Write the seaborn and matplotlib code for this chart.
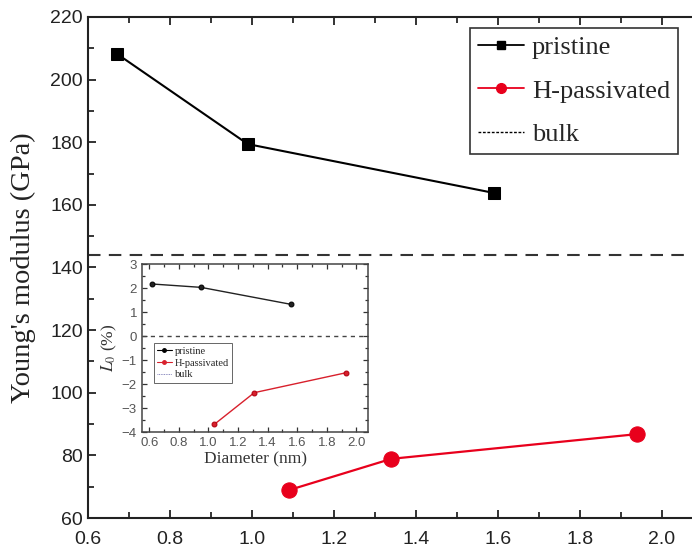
import numpy as np
import seaborn as sns
import matplotlib.pyplot as plt
from matplotlib.lines import Line2D
from matplotlib.ticker import MultipleLocator

# main panel: Young's modulus vs diameter
d_pristine = [0.67, 0.99, 1.59]
E_pristine = [208.3, 179.4, 163.8]
d_hpass = [1.09, 1.34, 1.94]
E_hpass = [68.9, 78.9, 86.8]
E_bulk = 144.0

# inset: L0 (%) vs diameter
d_pristine_in = [0.62, 0.95, 1.56]
L_pristine = [2.17, 2.03, 1.32]
d_hpass_in = [1.04, 1.31, 1.93]
L_hpass = [-3.68, -2.36, -1.53]
L_bulk = 0.0

sns.set_style("ticks")
plt.rcParams['font.family'] = ['Liberation Sans', 'DejaVu Sans']
plt.rcParams['mathtext.fontset'] = 'stix'
serif = ['Liberation Serif', 'DejaVu Serif']

fig = plt.figure(figsize=(6.92, 5.47), dpi=100)
ax = fig.add_axes([0.127, 0.053, 0.873, 0.916])

sns.lineplot(x=d_pristine, y=E_pristine, ax=ax, color='black', marker='s',
             markersize=9, linewidth=1.5, markeredgecolor='black')
sns.lineplot(x=d_hpass, y=E_hpass, ax=ax, color='#e8001c', marker='o',
             markersize=11, linewidth=1.6, markeredgecolor='#e8001c')
ax.axhline(E_bulk, color='#333333', linestyle=(0, (6, 4)), linewidth=1.5)

ax.set_xlim(0.6, 2.073)
ax.set_ylim(60, 220)
ax.xaxis.set_major_locator(MultipleLocator(0.2))
ax.xaxis.set_minor_locator(MultipleLocator(0.1))
ax.yaxis.set_major_locator(MultipleLocator(20))
ax.yaxis.set_minor_locator(MultipleLocator(10))
ax.tick_params(which='both', direction='in', top=True, right=False, width=1.3)
ax.tick_params(which='major', length=6, labelsize=14, colors='#222222')
ax.tick_params(axis='x', which='major', pad=9)
ax.tick_params(which='minor', length=4)
ax.spines['right'].set_visible(False)
for s in ['left', 'bottom', 'top']:
    ax.spines[s].set_linewidth(1.5)
    ax.spines[s].set_color('#222222')
ax.set_ylabel("Young's modulus (GPa)", family=serif, fontsize=20.5,
              labelpad=10, color='#222222')

handles = [
    Line2D([], [], color='black', marker='s', markersize=6, linewidth=1.3),
    Line2D([], [], color='#e8001c', marker='o', markersize=7, linewidth=1.3),
    Line2D([], [], color='black', linestyle=(0, (2, 1.2)), linewidth=1.0),
]
leg = ax.legend(handles, ['pristine', 'H-passivated', 'bulk'],
                loc='upper right', bbox_to_anchor=(0.977, 0.978),
                borderaxespad=0,
                prop={'family': serif, 'size': 19}, fancybox=False,
                framealpha=1, edgecolor='#333333', handlelength=1.75,
                handletextpad=0.3, borderpad=0.3, labelspacing=0.75)
leg.get_frame().set_linewidth(1.2)

# inset
axi = fig.add_axes([0.205, 0.2102, 0.327, 0.307])
sns.lineplot(x=d_pristine_in, y=L_pristine, ax=axi, color='#222222',
             marker='o', markersize=3.5, linewidth=1.0, markeredgecolor='black')
sns.lineplot(x=d_hpass_in, y=L_hpass, ax=axi, color='#d8202c',
             marker='o', markersize=3.5, linewidth=1.0, markeredgecolor='#b00010')
axi.axhline(L_bulk, color='#444444', linestyle=(0, (3, 3)), linewidth=1.0)
axi.set_xlim(0.55, 2.08)
axi.set_ylim(-4, 3)
axi.xaxis.set_major_locator(MultipleLocator(0.2))
axi.xaxis.set_minor_locator(MultipleLocator(0.1))
axi.yaxis.set_major_locator(MultipleLocator(1))
axi.yaxis.set_minor_locator(MultipleLocator(0.5))
axi.tick_params(which='both', direction='in', top=True, right=True,
                width=0.9, colors='#333333', labelcolor='#555555')
axi.tick_params(which='major', length=3.5, labelsize=9.5)
axi.tick_params(which='minor', length=2)
for s in axi.spines.values():
    s.set_linewidth(1.1)
    s.set_color('#444444')
axi.set_xlabel('Diameter (nm)', family=serif, fontsize=12.5, color='#333333',
               labelpad=2)
axi.set_ylabel(r'$L_0$ (%)', family=serif, fontsize=12.5, color='#333333',
               labelpad=2)

ihandles = [
    Line2D([], [], color='black', marker='o', markersize=2.5, linewidth=0.8),
    Line2D([], [], color='#d8202c', marker='o', markersize=2.5, linewidth=0.8),
    Line2D([], [], color='#6666aa', linestyle=(0, (1, 1)), linewidth=0.6),
]
ileg = axi.legend(ihandles, ['pristine', 'H-passivated', 'bulk'],
                  loc='upper left', bbox_to_anchor=(0.03, 0.56),
                  prop={'family': serif, 'size': 7.5}, fancybox=False,
                  framealpha=1, edgecolor='#666666', handlelength=1.4,
                  handletextpad=0.3, borderpad=0.3, labelspacing=0.25)
ileg.get_frame().set_linewidth(0.7)

fig.savefig('out.png', dpi=100)
